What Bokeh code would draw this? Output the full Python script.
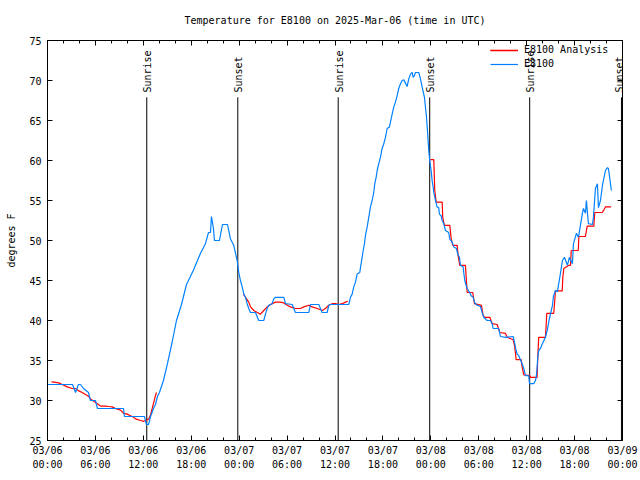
import math
from bokeh.plotting import figure
from bokeh.models import Range1d, FixedTicker, LinearAxis, Label, Legend, LegendItem
from bokeh.embed import file_html
from bokeh.resources import INLINE

title_text = "Temperature for E8100 on 2025-Mar-06 (time in UTC)"
y_label = "degrees F"

# hours since 2025-03-06 00:00 UTC
obs_hours = [0.00, 3.13, 3.51, 3.88, 4.13, 4.51, 5.13, 5.38, 6.01, 6.26, 9.52, 9.64, 12.14, 12.39,
             12.65, 12.90, 13.27, 13.52, 13.77, 14.02, 14.52, 15.02, 15.65, 16.15, 16.78, 17.40,
             17.90, 18.28, 18.78, 19.16, 19.78, 20.16, 20.41, 20.53, 20.78, 20.91, 21.53, 21.91,
             22.54, 22.91, 23.32, 23.75, 23.95, 24.16, 24.38, 24.58, 24.79, 25.00, 25.20, 25.42,
             26.04, 26.45, 27.08, 27.29, 27.51, 27.71, 28.13, 28.33, 28.55, 29.59, 29.80, 30.64,
             30.84, 31.05, 32.72, 32.93, 33.97, 34.39, 35.02, 35.22, 35.43, 37.72, 37.94, 38.15,
             38.35, 38.56, 38.77, 39.10, 39.19, 39.40, 39.53, 39.69, 39.81, 40.03, 40.23, 40.44,
             40.65, 40.85, 40.98, 41.15, 41.28, 41.48, 41.69, 41.90, 42.11, 42.32, 42.53, 42.82,
             42.94, 43.16, 43.36, 43.57, 43.78, 43.98, 44.20, 44.41, 44.61, 44.82, 45.03, 45.24,
             45.45, 45.66, 45.79, 45.95, 46.07, 46.49, 46.70, 46.91, 47.20, 47.45, 47.61, 47.74,
             47.86, 48.04, 48.16, 48.29, 48.37, 48.58, 48.79, 48.99, 49.08, 49.29, 49.42, 49.62,
             49.83, 50.24, 50.37, 50.67, 50.87, 51.21, 51.37, 51.58, 51.71, 52.04, 52.12, 52.25,
             52.42, 52.55, 52.87, 53.05, 53.30, 53.50, 53.80, 54.21, 54.42, 54.63, 55.05, 55.46,
             55.68, 55.80, 56.51, 56.72, 57.34, 58.31, 58.47, 58.68, 58.81, 59.01, 59.22, 59.43,
             59.64, 59.85, 60.26, 60.35, 60.89, 61.10, 61.22, 61.31, 61.39, 61.51, 61.72, 61.97,
             62.35, 62.60, 62.85, 63.23, 63.35, 63.60, 63.85, 64.23, 64.48, 64.73, 65.10, 65.35,
             65.73, 65.86, 66.23, 66.48, 66.98, 67.11, 67.36, 67.48, 67.73, 68.23, 68.36, 68.61,
             68.86, 68.99, 69.24, 69.49, 69.61, 69.86, 70.11, 70.24, 70.36, 70.61]
obs_temp = [32.0, 32.0, 31.0, 32.0, 32.0, 31.5, 31.0, 30.0, 30.0, 29.0, 29.0, 28.0, 28.0, 27.0,
            27.0, 28.0, 29.0, 29.5, 30.5, 31.0, 32.5, 34.6, 37.5, 40.0, 42.0, 44.5,
            45.5, 46.3, 47.5, 48.4, 49.6, 51.0, 51.0, 53.0, 51.5, 50.0, 50.0, 52.0,
            52.0, 50.2, 49.4, 47.5, 46.0, 45.0, 44.2, 43.3, 42.9, 42.1, 41.5, 41.0,
            41.0, 40.0, 40.0, 40.8, 41.5, 41.9, 42.1, 42.7, 42.9, 42.9, 42.1, 42.0,
            41.5, 41.0, 41.0, 42.0, 42.0, 41.0, 41.0, 41.9, 42.0, 42.0, 42.9, 43.3,
            44.2, 44.8, 45.8, 46.0, 46.6, 47.9, 48.75, 49.6, 50.6, 51.7, 52.9, 54.2,
            55.0, 56.0, 57.1, 57.9, 58.75, 59.6, 60.4, 61.5, 62.1, 62.9, 64.0, 64.2,
            64.8, 65.8, 66.7, 67.3, 68.1, 69.0, 69.6, 70.0, 70.1, 69.7, 69.25, 70.2,
            70.8, 71.0, 70.4, 70.6, 71.0, 71.0, 70.2, 69.2, 67.9, 65.5, 63.3, 61.25,
            60.0, 58.75, 57.5, 56.7, 56.0, 55.0, 54.2, 54.1, 53.3, 53.1, 52.5, 52.1,
            51.25, 51.0, 50.2, 49.8, 49.2, 49.0, 48.3, 47.9, 46.9, 46.7, 46.0, 45.0,
            44.4, 44.0, 43.5, 43.1, 42.9, 42.2, 41.9, 41.75, 41.0, 40.4, 40.0, 40.0,
            39.6, 39.0, 39.0, 38.0, 37.9, 38.0, 37.3, 36.25, 35.8, 35.6, 35.1, 34.6,
            34.0, 33.1, 33.1, 32.1, 32.1, 32.5, 33.1, 34.2, 35.4, 36.25, 36.5, 37.1,
            37.9, 38.9, 40.25, 41.9, 43.0, 43.75, 43.6, 45.9, 47.5, 47.9, 46.9, 47.9,
            47.1, 49.6, 50.9, 50.4, 53.4, 54.0, 53.4, 55.0, 52.1, 52.0, 52.9, 56.5,
            57.1, 54.1, 55.0, 56.9, 57.5, 58.75, 59.1, 59.0, 58.1, 56.25]

# analysis: three separate runs
ana1_hours = [0.50, 0.79, 1.41, 1.84, 2.47, 3.09, 3.51, 3.92, 4.34, 4.76, 5.17, 5.38, 5.80, 6.22,
              6.64, 7.26, 7.67, 8.10, 8.51, 9.14, 9.55, 9.98, 10.39, 10.80, 11.02, 11.64, 12.06,
              12.27, 12.48, 12.68, 12.90, 13.11, 13.31, 13.52, 13.65]
ana1_temp = [32.33, 32.3, 32.2, 32.0, 31.7, 31.5, 31.5, 31.2, 31.0, 30.75, 30.5, 30.2, 29.9, 29.6,
             29.3, 29.3, 29.25, 29.2, 29.0, 28.8, 28.4, 28.3, 28.1, 27.9, 27.7, 27.5, 27.4,
             27.5, 27.6, 27.7, 28.2, 29.0, 29.8, 30.6, 31.0]
ana2_hours = [24.54, 24.79, 25.20, 25.42, 25.83, 26.26, 26.67, 27.08, 27.51, 27.92, 28.55, 29.17,
              29.59, 30.01, 30.42, 31.05, 31.68, 32.09, 32.72, 33.14, 33.77, 34.39, 34.81, 35.22,
              35.65, 36.06, 36.47, 36.90, 37.31, 37.60]
ana2_temp = [43.3, 42.9, 42.3, 41.7, 41.25, 41.0, 40.8, 41.25, 41.7, 42.0, 42.3, 42.3,
             42.2, 41.9, 41.7, 41.5, 41.5, 41.7, 41.9, 41.7, 41.5, 41.25, 41.5, 41.9,
             42.1, 42.1, 42.0, 42.1, 42.3, 42.4]
ana3_hours = [47.95, 48.37, 48.49, 48.67, 49.42, 49.49, 49.70, 50.37, 50.55, 50.75, 51.30, 51.42,
              51.62, 52.33, 52.55, 53.25, 53.46, 54.34, 54.55, 54.75, 55.38, 55.68, 56.30, 56.63,
              57.34, 57.55, 58.31, 58.51, 58.68, 59.31, 59.43, 59.64, 60.39, 60.48, 61.31, 61.39,
              61.51, 62.35, 62.44, 62.52, 63.39, 63.52, 63.60, 64.45, 64.53, 64.65, 65.28, 65.49,
              65.58, 66.46, 66.54, 67.36, 67.58, 68.41, 68.53, 69.46, 69.66, 69.86, 70.58]
ana3_temp = [60.1, 60.1, 56.25, 54.8, 54.8, 52.9, 51.9, 51.9, 50.2, 49.4, 49.4, 48.1,
             46.9, 46.9, 43.5, 43.5, 42.1, 41.9, 40.6, 40.4, 40.4, 39.6, 39.5, 38.5,
             38.4, 37.9, 37.6, 36.7, 35.1, 35.1, 34.2, 33.2, 33.1, 32.9, 32.9, 35.4,
             37.9, 37.9, 39.4, 40.9, 40.9, 42.5, 43.7, 43.7, 45.4, 46.5, 46.9, 46.9,
             48.75, 48.75, 50.5, 50.5, 51.8, 51.8, 53.5, 53.5, 53.8, 54.2, 54.2]

event_hours = [12.43, 23.83, 36.40, 47.86, 60.38, 71.87]
event_labels = ["Sunrise", "Sunset", "Sunrise", "Sunset", "Sunrise", "Sunset"]
event_line_top = 67.9
event_text_y = 68.5

x_tick_hours = [0, 6, 12, 18, 24, 30, 36, 42, 48, 54, 60, 66, 72]
x_tick_labels = ["03/06\n00:00", "03/06\n06:00", "03/06\n12:00", "03/06\n18:00",
                 "03/07\n00:00", "03/07\n06:00", "03/07\n12:00", "03/07\n18:00",
                 "03/08\n00:00", "03/08\n06:00", "03/08\n12:00", "03/08\n18:00",
                 "03/09\n00:00"]
x_minor_hours = list(range(0, 73, 2))
y_ticks = [25, 30, 35, 40, 45, 50, 55, 60, 65, 70, 75]

FONT = "DejaVu Sans Mono"
RED = "#ff0000"
BLUE = "#0080ff"

p = figure(width=640, height=480, output_backend="svg", toolbar_location=None,
           x_range=Range1d(0, 72), y_range=Range1d(25, 75),
           min_border_left=47, min_border_right=18, min_border_top=40, min_border_bottom=40,
           x_axis_location=None, y_axis_location=None)
p.title.text = title_text
p.title.text_font = FONT
p.title.text_font_size = "10px"
p.title.text_font_style = "normal"
p.title.text_color = "black"
p.title.align = "center"
p.title.vertical_align = "top"
p.title.standoff = 26
p.xgrid.visible = False
p.ygrid.visible = False
p.outline_line_color = "black"
p.outline_line_width = 1
p.background_fill_color = "white"
p.border_fill_color = "white"

xticker = FixedTicker(ticks=x_tick_hours, minor_ticks=x_minor_hours)
yticker = FixedTicker(ticks=y_ticks, minor_ticks=[])


def style(ax, show_labels):
    ax.major_tick_in = 5
    ax.major_tick_out = 0
    ax.minor_tick_in = 3
    ax.minor_tick_out = 0
    ax.axis_line_color = "black"
    ax.major_tick_line_color = "black"
    ax.minor_tick_line_color = "black"
    ax.major_label_text_font = FONT
    ax.major_label_text_font_size = "10px"
    ax.major_label_text_color = "black"
    ax.axis_label_text_font = FONT
    ax.axis_label_text_font_size = "10px"
    ax.axis_label_text_font_style = "normal"
    ax.axis_label_text_color = "black"
    if not show_labels:
        ax.major_label_standoff = 0


bx = LinearAxis(ticker=xticker, major_label_overrides=dict(zip(x_tick_hours, x_tick_labels)))
style(bx, True)
bx.major_label_standoff = 4
bx.major_label_text_line_height = 1.3
p.add_layout(bx, "below")

tx = LinearAxis(ticker=xticker, major_label_overrides={h: "" for h in x_tick_hours})
style(tx, False)
p.add_layout(tx, "above")

ly = LinearAxis(ticker=yticker, axis_label=y_label)
style(ly, True)
ly.major_label_standoff = 6
ly.axis_label_standoff = 9
p.add_layout(ly, "left")

ry = LinearAxis(ticker=yticker, major_label_overrides={t: "" for t in y_ticks})
style(ry, False)
p.add_layout(ry, "right")

# event markers
event_text_dx = [1, 1, 1, 1, 1, -2]
p.segment(x0=event_hours, y0=[25] * len(event_hours), x1=event_hours,
          y1=[event_line_top] * len(event_hours), line_color="black", line_width=1)
for h, lab, dx in zip(event_hours, event_labels, event_text_dx):
    p.add_layout(Label(x=h, y=event_text_y, text=lab, angle=math.pi / 2,
                       text_align="left", text_baseline="middle", x_offset=dx,
                       text_font=FONT, text_font_size="10px", text_color="black"))

r1 = p.line(ana1_hours, ana1_temp, line_color=RED, line_width=1.2)
r2 = p.line(ana2_hours, ana2_temp, line_color=RED, line_width=1.2)
r3 = p.line(ana3_hours, ana3_temp, line_color=RED, line_width=1.2)
rb = p.line(obs_hours, obs_temp, line_color=BLUE, line_width=1.2)

legend = Legend(items=[LegendItem(label="E8100 Analysis", renderers=[r1, r2, r3]),
                       LegendItem(label="E8100", renderers=[rb])],
                location=(441, 369), orientation="vertical",
                label_text_font=FONT, label_text_font_size="10px", label_text_color="black",
                glyph_width=28, glyph_height=10, label_height=10, label_standoff=6,
                spacing=3, padding=2, margin=0,
                border_line_alpha=0, background_fill_alpha=0)
p.add_layout(legend)

open("out.html", "w").write(file_html(p, INLINE))
